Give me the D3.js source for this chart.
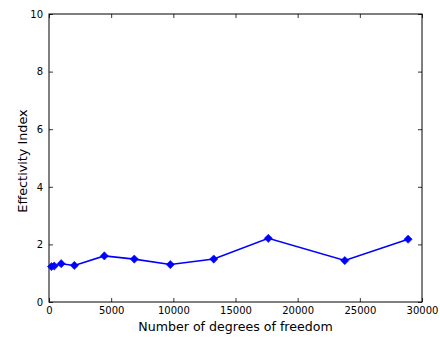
<!DOCTYPE html>
<html>
<head>
<meta charset="utf-8">
<script src="https://cdn.jsdelivr.net/npm/d3@7"></script>
<style>
  html, body { margin: 0; padding: 0; background: #fff; }
  svg { display: block; font-family: "DejaVu Sans", sans-serif; }
</style>
</head>
<body>
<svg id="chart" width="440" height="338"></svg>
<script>
// Degrees of freedom and the effectivity index measured at each
const dof = [200, 420, 980, 2040, 4450, 6860, 9760, 13250, 17640, 23790, 28880];
const effectivity = [1.23, 1.25, 1.33, 1.27, 1.60, 1.49, 1.30, 1.49, 2.21, 1.44, 2.18];
const xTicks = [0, 5000, 10000, 15000, 20000, 25000, 30000];
const yTicks = [0, 2, 4, 6, 8, 10];

const svg = d3.select("#chart");
const plotL = 49, plotR = 422, plotT = 14, plotB = 302;

const x = d3.scaleLinear().domain([0, 30000]).range([plotL, plotR]);
const y = d3.scaleLinear().domain([0, 10]).range([plotB, plotT]);

// Ticks point inwards on all four sides
const tickLen = 4;
const g = svg.append("g");

g.append("g").attr("transform", `translate(0,${plotB})`)
  .call(d3.axisBottom(x).tickValues(xTicks).tickSizeInner(-tickLen).tickSizeOuter(0).tickPadding(5).tickFormat(d3.format("d")));
g.append("g").attr("transform", `translate(0,${plotT})`)
  .call(d3.axisTop(x).tickValues(xTicks).tickSizeInner(-tickLen).tickSizeOuter(0).tickFormat(""));
g.append("g").attr("transform", `translate(${plotL},0)`)
  .call(d3.axisLeft(y).tickValues(yTicks).tickSizeInner(-tickLen).tickSizeOuter(0).tickPadding(6).tickFormat(d3.format("d")));
g.append("g").attr("transform", `translate(${plotR},0)`)
  .call(d3.axisRight(y).tickValues(yTicks).tickSizeInner(-tickLen).tickSizeOuter(0).tickFormat(""));

g.selectAll(".domain").remove();
g.selectAll(".tick line").attr("stroke", "#000").attr("stroke-width", 0.8);
g.selectAll(".tick text").attr("fill", "#000").style("font-size", "10px").style("font-family", "DejaVu Sans, sans-serif");

// Frame
svg.append("rect")
  .attr("x", plotL).attr("y", plotT)
  .attr("width", plotR - plotL).attr("height", plotB - plotT)
  .attr("fill", "none").attr("stroke", "#000").attr("stroke-width", 1);

// Series line
const line = d3.line().x((d, i) => x(dof[i])).y(d => y(d));
svg.append("path")
  .datum(effectivity)
  .attr("d", line)
  .attr("fill", "none")
  .attr("stroke", "#0000ff")
  .attr("stroke-width", 1.6);

// Diamond markers
const diamond = d3.symbol().type(d3.symbolSquare).size(34);
svg.selectAll(".marker")
  .data(effectivity)
  .join("path")
  .attr("class", "marker")
  .attr("d", diamond)
  .attr("transform", (d, i) => `translate(${x(dof[i])},${y(d)}) rotate(45)`)
  .attr("fill", "#0000ff")
  .attr("stroke", "#0000ff")
  .attr("stroke-width", 0.5);

// Axis titles
svg.append("text")
  .attr("x", (plotL + plotR) / 2).attr("y", 331)
  .attr("text-anchor", "middle")
  .style("font-size", "12.6px")
  .text("Number of degrees of freedom");

svg.append("text")
  .attr("transform", `translate(27,161) rotate(-90)`)
  .attr("text-anchor", "middle")
  .style("font-size", "12.8px")
  .text("Effectivity Index");
</script>
</body>
</html>
